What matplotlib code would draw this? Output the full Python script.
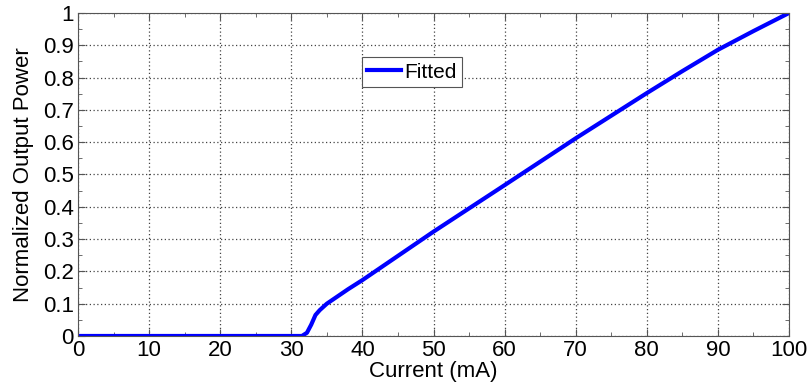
import numpy as np
import matplotlib.pyplot as plt
from matplotlib.ticker import MultipleLocator

plt.rcParams['font.family'] = ['Liberation Sans', 'DejaVu Sans']

current = [0, 10, 20, 31.5, 32.2, 32.8, 33.4, 34, 35, 36, 38, 40, 50, 60, 70, 75, 80, 85,
           90, 95, 100]
power = [0, 0, 0, 0, 0.01, 0.035, 0.065, 0.08, 0.1, 0.115, 0.145, 0.173,
         0.323, 0.467, 0.612, 0.682, 0.752, 0.82, 0.886, 0.944, 1.0]

fig = plt.figure(figsize=(8.09, 3.9), dpi=100)
ax = fig.add_axes([0.0964, 0.1385, 0.8789, 0.8282])

ax.plot(current, power, color='#0000ff', lw=3, label='Fitted')

ax.set_xlim(0, 100)
ax.set_ylim(0, 1)
ax.xaxis.set_major_locator(MultipleLocator(10))
ax.xaxis.set_minor_locator(MultipleLocator(5))
ax.yaxis.set_minor_locator(MultipleLocator(0.05))
ax.set_yticks(np.arange(0, 1.01, 0.1))
ax.set_yticklabels(['0', '0.1', '0.2', '0.3', '0.4', '0.5', '0.6', '0.7', '0.8', '0.9', '1'])

ax.tick_params(which='both', direction='in', top=True, right=True, labelsize=16, pad=3,
               color='#555555')
ax.tick_params(which='major', length=5)
ax.tick_params(which='minor', length=3)
ax.grid(True, which='major', linestyle=(0, (1, 2)), color='#444444', lw=0.9)
for s in ax.spines.values():
    s.set_color('#555555')

ax.set_xlabel('Current (mA)', fontsize=16, labelpad=0)
ax.set_ylabel('Normalized Output Power', fontsize=16, labelpad=6)

leg = ax.legend(loc='center', bbox_to_anchor=(0.47, 0.817), fontsize=15, fancybox=False,
                framealpha=1, edgecolor='#555555', handlelength=1.6, handletextpad=0.2,
                borderpad=0.25)
leg.get_frame().set_linewidth(0.8)

fig.savefig('out.png', dpi=100)
